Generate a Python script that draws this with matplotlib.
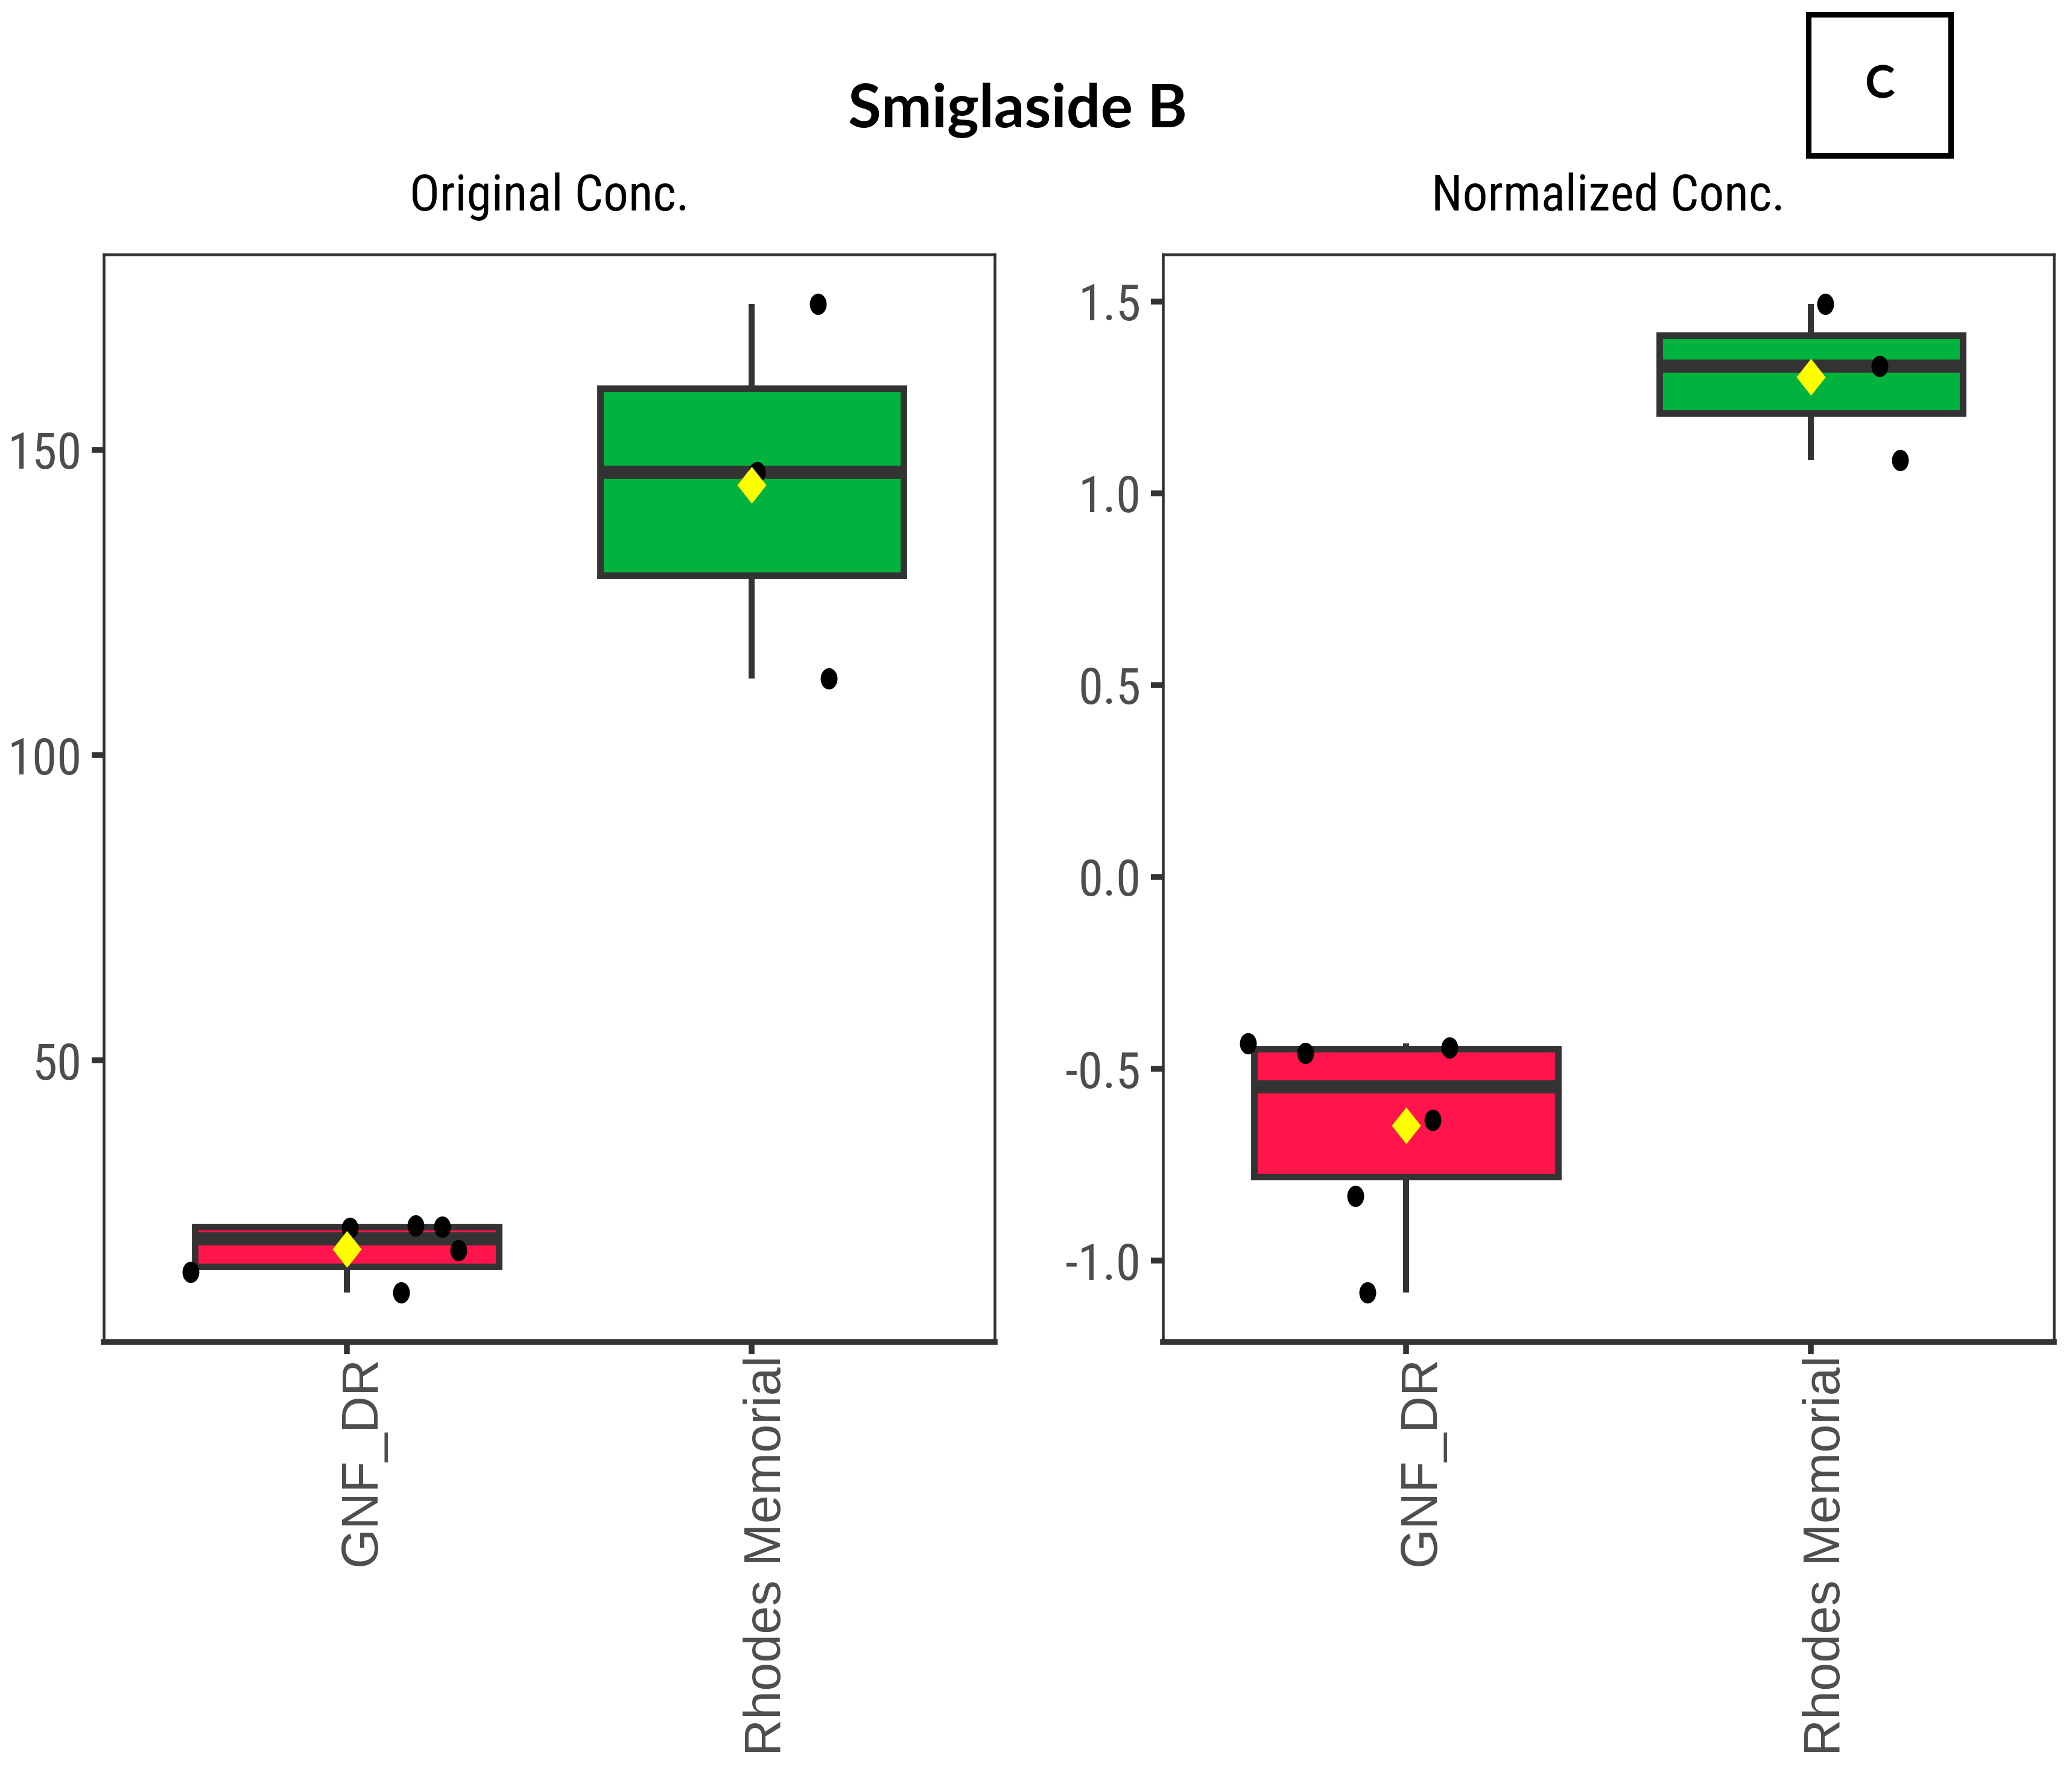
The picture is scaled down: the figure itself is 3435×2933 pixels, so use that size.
import numpy as np
import matplotlib
matplotlib.use("Agg")
import matplotlib.pyplot as plt
from matplotlib import font_manager
from matplotlib.path import Path
from matplotlib.patches import Rectangle
from matplotlib.transforms import ScaledTranslation, Affine2D

sites = ["GNF_DR", "Rhodes Memorial"]
box_colors = ["#FF144B", "#00B23E"]

# Original concentration per site
orig_gnf = [15.4, 22.6, 23.0, 22.8, 18.9, 12.0]
orig_rhodes = [173.9, 146.3, 112.6]
# Normalized concentration per site
norm_gnf = [-0.434, -0.459, -0.445, -0.634, -0.831, -1.083]
norm_rhodes = [1.493, 1.331, 1.086]

# horizontal jitter of the dots
jit_orig_gnf = [-0.386, 0.007, 0.17, 0.235, 0.275, 0.134]
jit_orig_rhodes = [0.163, 0.013, 0.19]
jit_norm_gnf = [-0.39, -0.249, 0.108, 0.066, -0.125, -0.095]
jit_norm_rhodes = [0.036, 0.17, 0.22]

orig_ticks = [50, 100, 150]
norm_ticks = [-1.0, -0.5, 0.0, 0.5, 1.0, 1.5]

# fonts
names = {f.name for f in font_manager.fontManager.ttflist}
narrow = "Liberation Sans Narrow" if "Liberation Sans Narrow" in names else "Roboto Condensed" if "Roboto Condensed" in names else "Liberation Sans"
regular = "Liberation Sans" if "Liberation Sans" in names else "DejaVu Sans"
bold = "Lato" if "Lato" in names else "DejaVu Sans"

dark = "#333333"
grey = "#4D4D4D"

# slightly tall markers, like the stretched original
dot = Path.unit_circle().transformed(Affine2D().scale(0.79, 1.0))
diamond = Path([(0, 1), (0.79, 0), (0, -1), (-0.79, 0), (0, 1)],
               [Path.MOVETO, Path.LINETO, Path.LINETO, Path.LINETO, Path.CLOSEPOLY])

fig = plt.figure(figsize=(3435 / 300, 2933 / 300), dpi=300)
ax1 = fig.add_axes([0.0501, 0.2414, 0.430, 0.6147])
ax2 = fig.add_axes([0.5613, 0.2414, 0.430, 0.6147])


def draw_panel(ax, groups, jitters, ticks, title):
    bp = ax.boxplot(groups, positions=[0, 1], widths=0.75, patch_artist=True,
                    showcaps=False, showfliers=False, whis=1.5,
                    medianprops=dict(color=dark, lw=5.2, solid_capstyle="butt"),
                    boxprops=dict(edgecolor=dark, lw=2.6),
                    whiskerprops=dict(color=dark, lw=2.4, solid_capstyle="butt"))
    for patch, c in zip(bp["boxes"], box_colors):
        patch.set_facecolor(c)
    for i, (vals, jit) in enumerate(zip(groups, jitters)):
        ax.scatter(i + np.array(jit), vals, marker=dot, s=72, c="black", lw=0, zorder=3)
        ax.scatter([i], [np.mean(vals)], marker=diamond, s=215, c="#FFFF00", lw=0, zorder=4)

    allv = np.concatenate(groups)
    lo, hi = allv.min(), allv.max()
    pad = 0.05 * (hi - lo)
    ax.set_ylim(lo - pad, hi + pad)
    ax.set_xlim(-0.6, 1.6)

    ax.set_yticks(ticks)
    ax.set_yticklabels([f"{t:g}" if isinstance(t, int) else f"{t:.1f}" for t in ticks],
                       fontfamily=narrow, fontsize=20, color=grey)
    ax.set_xticks([0, 1])
    ax.tick_params(axis="both", direction="out", length=4.8, width=2.3, color=dark)
    ax.tick_params(axis="y", pad=4.0)
    ax.tick_params(axis="x", labelbottom=False)

    off = ScaledTranslation(6.2 / 72, -5.4 / 72, fig.dpi_scale_trans)
    for i, s in enumerate(sites):
        ax.text(i, 0, s, transform=ax.get_xaxis_transform() + off, rotation=90,
                ha="center", va="top", fontfamily=regular, fontsize=20.3, color=grey)

    for side in ["left", "top", "right"]:
        ax.spines[side].set_linewidth(1.1)
        ax.spines[side].set_color(dark)
    ax.spines["bottom"].set_linewidth(2.3)
    ax.spines["bottom"].set_color(dark)

    ax.set_title(title, pad=17.5, fontfamily=narrow, fontsize=20, color="black")


draw_panel(ax1, [orig_gnf, orig_rhodes], [jit_orig_gnf, jit_orig_rhodes], orig_ticks, "Original Conc.")
draw_panel(ax2, [norm_gnf, norm_rhodes], [jit_norm_gnf, jit_norm_rhodes], norm_ticks, "Normalized Conc.")

fig.text(0.491, 0.928, "Smiglaside B", ha="center", va="baseline",
         fontfamily=bold, fontweight="bold", fontsize=24)

# panel letter in a box
fig.patches.append(Rectangle((0.8728, 0.912), 0.0687, 0.0798, transform=fig.transFigure,
                             fill=False, edgecolor="black", lw=2.2))
fig.text(0.9072, 0.9519, "C", ha="center", va="center",
         fontfamily=bold, fontweight="bold", fontsize=18)

fig.savefig("out.png", dpi=300, facecolor="white")
